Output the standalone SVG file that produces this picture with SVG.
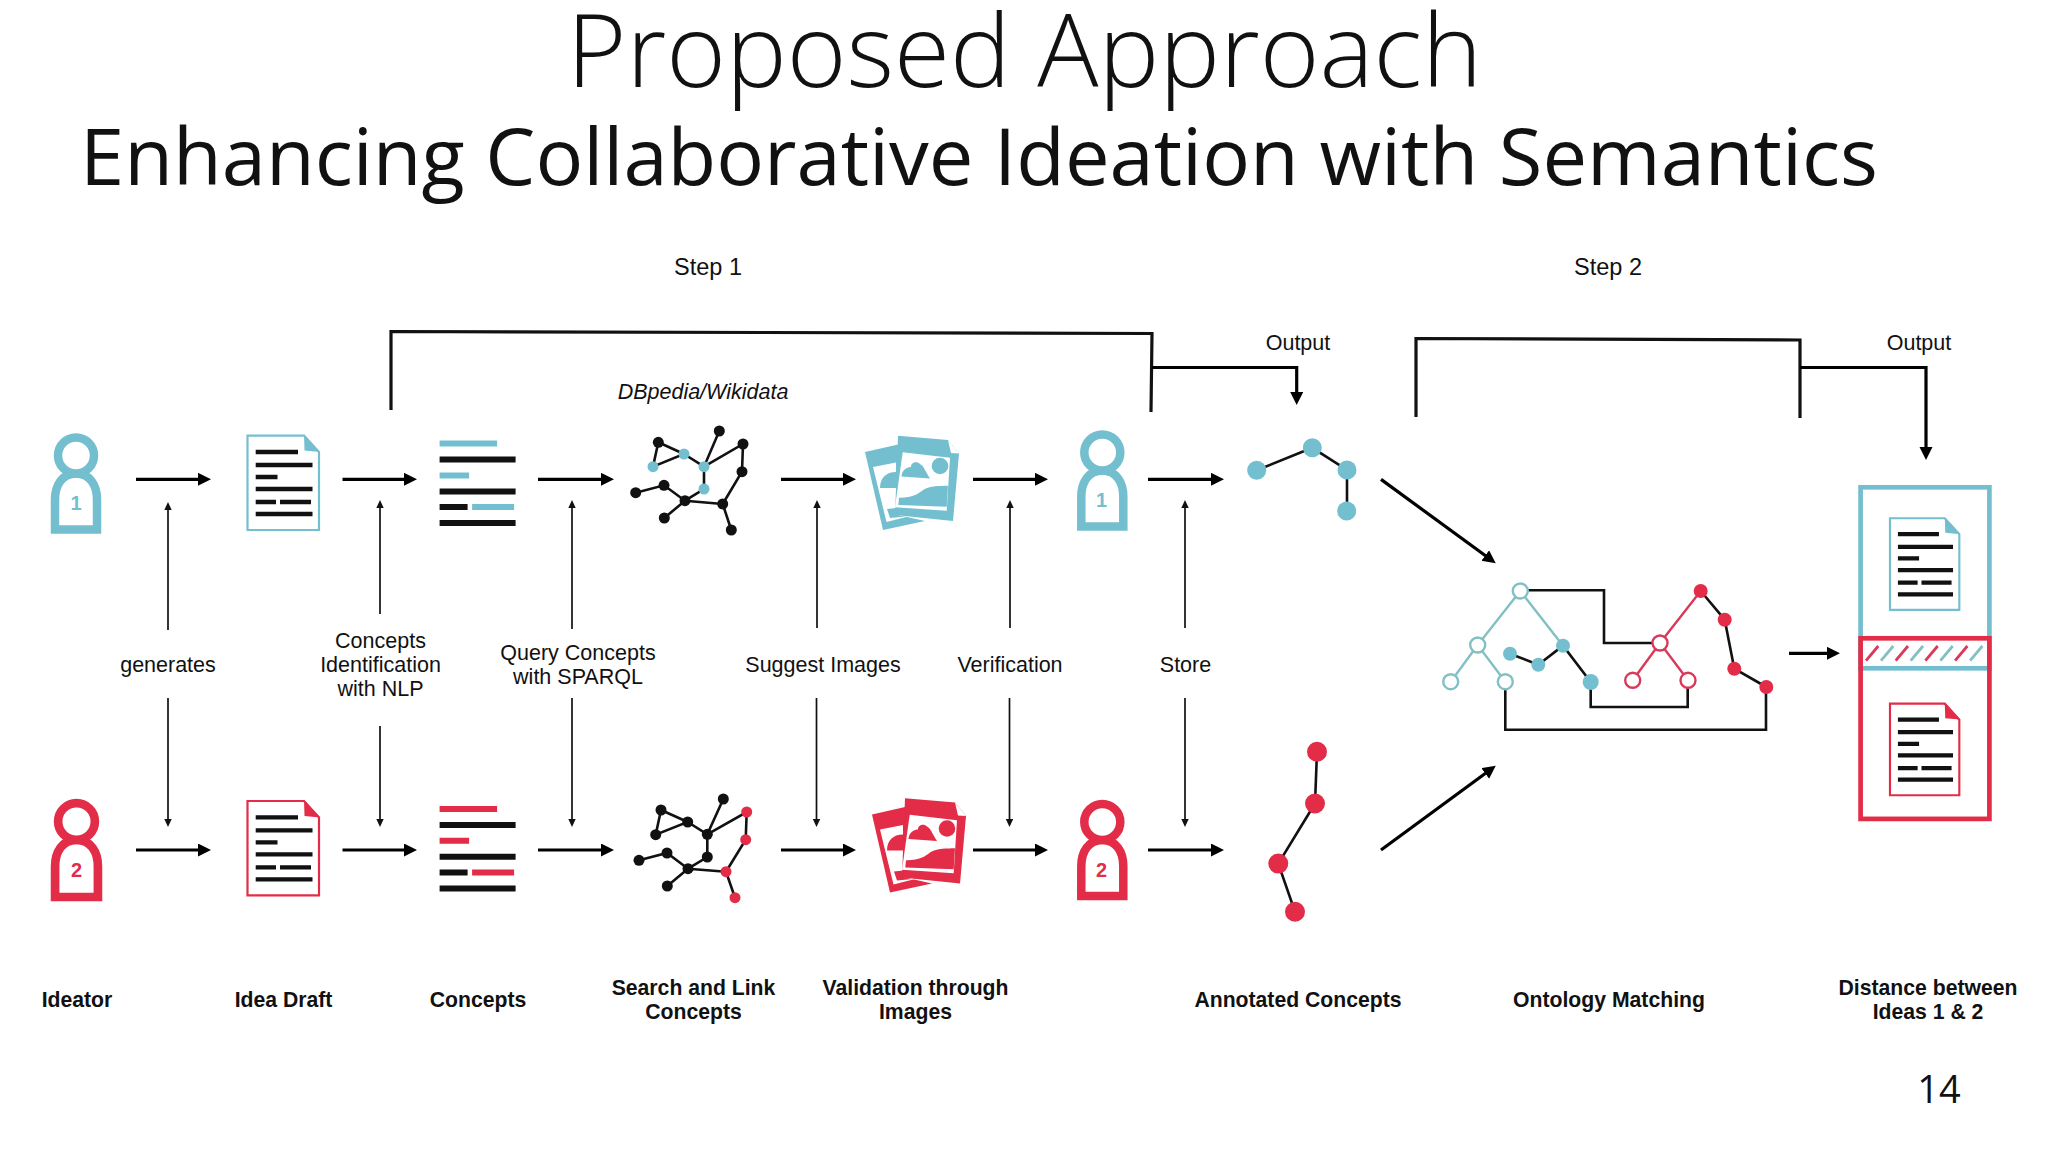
<svg xmlns="http://www.w3.org/2000/svg" xmlns:xlink="http://www.w3.org/1999/xlink" width="2048" height="1152" viewBox="0 0 2048 1152">
<style>
.t{color:#74bfcf}.r{color:#e32c48}
.lb{font-family:"Liberation Sans",Arial,sans-serif;font-size:21.5px;fill:#111;text-anchor:middle}
.st{font-family:"Liberation Sans",Arial,sans-serif;font-size:23.5px;fill:#111;text-anchor:middle}
.bd{font-family:"Liberation Sans",Arial,sans-serif;font-size:21.2px;font-weight:700;fill:#111;text-anchor:middle}
.big{stroke:#000;stroke-width:3.2;fill:none;marker-end:url(#hb)}
.thin{stroke:#111;stroke-width:1.7;fill:none;marker-end:url(#hs)}
.br{stroke:#111;stroke-width:3.2;fill:none}
.bar{stroke:#111;stroke-width:4.4}
.bar2{stroke:#111;stroke-width:6}
.e{stroke:#111;stroke-width:2.6;fill:none}
.k{fill:#111}
.hol{fill:#fff;stroke-width:2.4;stroke:currentColor}
.sol{fill:currentColor}
.ol{stroke:currentColor;stroke-width:2.4;fill:none}
.num{font-family:"Liberation Sans",sans-serif;font-weight:700;font-size:20px;text-anchor:middle;fill:currentColor}
.onT{color:#82c0c4}
.onR{color:#d9395a}
</style>
<defs>
<marker id="hb" markerUnits="userSpaceOnUse" markerWidth="14" markerHeight="14" refX="5" refY="6.5" orient="auto"><path d="M0,0L13,6.5L0,13Z" fill="#000"/></marker>
<marker id="hs" markerUnits="userSpaceOnUse" markerWidth="9" markerHeight="9" refX="3" refY="3.7" orient="auto"><path d="M0,0L8,3.7L0,7.4Z" fill="#111"/></marker>
<g id="person">
<path d="M-21,74 V44 C-21,30 -14,18 0,18 C14,18 21,30 21,44 V74 Z" fill="#fff" stroke="currentColor" stroke-width="8.5"/>
<circle r="18" fill="#fff" stroke="currentColor" stroke-width="8.5"/>
</g>
<g id="doc">
<rect width="73.5" height="96.4" fill="#fff" stroke="none"/>
<path d="M1,1 H57.5 L72.5,17.5 V95.4 H1 Z" fill="#fff" stroke="currentColor" stroke-width="2.2"/>
<path d="M57.5,0 L73.5,17.4 L58,16 Z" fill="currentColor"/>
<path class="bar" d="M9.2,17.4H51.5M9.2,30.4H66M9.2,42.4H31M9.2,54.4H66M9.2,67.4H29.5M33.5,67.4H64.5M9.2,79.4H66"/>
</g>
<g id="concepts">
<path class="bar2" d="M0,16H76M0,47.8H76M0,63.4H28M0,79.4H76"/>
<path d="M0,0H57.5V6H0ZM0,31.8H29.5V37.8H0ZM32.5,63.4H74.5V69.4H32.5Z" fill="currentColor" transform="translate(0,-3)"/>
</g>
<g id="images">
<path d="M865,452 L898,444.6 L898,515 L925,521 L883,530 Z" fill="currentColor"/>
<path d="M873,467 L896,462.5 L896,508 L887,509 L890,518 L910,516 L886.5,522 Z" fill="#fff"/>
<path d="M880,488 C880,478 886,472 896,472 V488 Z" fill="currentColor"/>
<path d="M898,435.7 L948,440 L959,453.6 L953,521 L895,515 Z" fill="currentColor"/>
<path d="M902.7,452.3 L950,457.7 L946.7,510.7 L895,507.3 Z" fill="#fff"/>
<path d="M948,440 L959,453.6 L951,453 Z" fill="#fff"/>
<circle cx="940" cy="466" r="8.3" fill="currentColor"/>
<path d="M901.5,476.5 C902,469 908,467 911,467 C911,462 917,461 920,464 C924,466 925,471 930,478.5 Z" fill="currentColor"/>
<path d="M899,497.7 C912,498 918,494 923,490 C930,485.5 940,486 948,485.7 L946.7,506.7 L898.3,505 Z" fill="currentColor"/>
</g>
</defs>
<rect width="2048" height="1152" fill="#fff"/>
<g id="titles">
<text x="1024.5" y="87" font-family="'Open Sans',sans-serif" font-weight="300" font-size="102" text-anchor="middle" fill="#111">Proposed Approach</text>
<text x="979" y="185" font-family="'Open Sans',sans-serif" font-size="79.5" text-anchor="middle" fill="#111">Enhancing Collaborative Ideation with Semantics</text>
<text x="1939" y="1103" font-family="'Open Sans',sans-serif" font-size="38" text-anchor="middle" fill="#111">14</text>
<text class="st" x="708" y="275">Step 1</text>
<text class="st" x="1608" y="275">Step 2</text>
<text class="lb" x="1298" y="350">Output</text>
<text class="lb" x="1919" y="350">Output</text>
<text class="lb" x="703" y="399" font-style="italic">DBpedia/Wikidata</text>
</g>
<g id="connectors">
<path class="br" d="M391,410V331.5L1152,333.5L1151,412"/>
<path class="big" d="M1152,367.5H1296.7V397"/>
<path class="br" d="M1416,417V338.5L1800,340V418"/>
<path class="big" d="M1800,367.5H1926V452"/>
<path class="big" d="M136,479.3H203"/><path class="big" d="M342.5,479.3H409"/><path class="big" d="M538,479.3H606"/><path class="big" d="M781,479.3H848"/><path class="big" d="M973,479.3H1040"/><path class="big" d="M1148,479.3H1216"/>
<path class="big" d="M136,850H203"/><path class="big" d="M342.5,850H409"/><path class="big" d="M538,850H606"/><path class="big" d="M781,850H848"/><path class="big" d="M973,850H1040"/><path class="big" d="M1148,850H1216"/>
<path class="thin" d="M168,630V507"/><path class="thin" d="M168,698V822"/>
<path class="thin" d="M380,614V505"/><path class="thin" d="M380,726V822"/>
<path class="thin" d="M572,629V505"/><path class="thin" d="M572,698V822"/>
<path class="thin" d="M817,628V505"/><path class="thin" d="M816.5,698V822"/>
<path class="thin" d="M1010,628V505"/><path class="thin" d="M1009.5,698V822"/>
<path class="thin" d="M1185,628V505"/><path class="thin" d="M1185,698V822"/>
<path class="big" d="M1381,479.4L1489.3,558.5"/>
<path class="big" d="M1381,850L1489.3,770.5"/>
<path class="big" d="M1789,653.3H1832"/>
</g>
<g id="labels">
<text class="lb" x="168" y="672">generates</text>
<text class="lb" x="380.5" y="648">Concepts</text><text class="lb" x="380.5" y="672">Identification</text><text class="lb" x="380.5" y="696">with NLP</text>
<text class="lb" x="578" y="660">Query Concepts</text><text class="lb" x="578" y="684">with SPARQL</text>
<text class="lb" x="823" y="672">Suggest Images</text>
<text class="lb" x="1010" y="672">Verification</text>
<text class="lb" x="1185.5" y="672">Store</text>
<text class="bd" x="77" y="1007">Ideator</text>
<text class="bd" x="283.5" y="1007">Idea Draft</text>
<text class="bd" x="478" y="1007">Concepts</text>
<text class="bd" x="693.5" y="995">Search and Link</text><text class="bd" x="693.5" y="1019">Concepts</text>
<text class="bd" x="915.5" y="995">Validation through</text><text class="bd" x="915.5" y="1019">Images</text>
<text class="bd" x="1298" y="1007">Annotated Concepts</text>
<text class="bd" x="1609" y="1007">Ontology Matching</text>
<text class="bd" x="1928" y="995">Distance between</text><text class="bd" x="1928" y="1019">Ideas 1 &amp; 2</text>
</g>
<g id="ideator1" class="t"><use href="#person" transform="translate(76,455.5)"/><text class="num" x="76" y="510">1</text></g>
<g id="ideator2" class="r"><use href="#person" transform="translate(76.5,821.5) scale(1.02)"/><text class="num" x="76.5" y="877">2</text></g>
<g id="draft1" class="t"><use href="#doc" transform="translate(246.5,434.6)"/></g>
<g id="draft2" class="r"><use href="#doc" transform="translate(246.5,800)"/></g>
<g id="concepts1" class="t"><use href="#concepts" transform="translate(439.6,443.6)"/></g>
<g id="concepts2" class="r"><use href="#concepts" transform="translate(439.6,809)"/></g>
<g id="network1" class="t">
<path class="e" d="M658.3,442.3L684,454L653,466.7L658.3,442.3M684,454L704,466.7L719.3,431M704,466.7L743,444L742,471.7L722.7,504L731.3,530M704,466.7V489L685,500.7L664,485.3L635.7,492.7M685,500.7L664.3,518M685,500.7L722.7,504"/>
<g class="k"><circle cx="658.3" cy="442.3" r="5.5"/><circle cx="719.3" cy="431" r="5.5"/><circle cx="743" cy="444" r="5.5"/><circle cx="742" cy="471.7" r="5.5"/><circle cx="664" cy="485.3" r="5.5"/><circle cx="635.7" cy="492.7" r="5.5"/><circle cx="685" cy="500.7" r="5.5"/><circle cx="722.7" cy="504" r="5.5"/><circle cx="664.3" cy="518" r="5.5"/><circle cx="731.3" cy="530" r="5.5"/></g>
<g class="sol"><circle cx="684" cy="454" r="5.5"/><circle cx="653" cy="466.7" r="5.5"/><circle cx="704" cy="466.7" r="5.5"/><circle cx="704" cy="489" r="5.5"/></g>
</g>
<g id="network2" class="r">
<path class="e" d="M661,810L687.7,822L655.7,834.7L661,810M687.7,822L707.3,834.3L723.3,799M707.3,834.3L746.7,812L745.7,839.7L726,871.7L735,897.7M707.3,834.3V857L688,868.7L667,853L639,860.3M688,868.7L667.3,886M688,868.7L726,871.7"/>
<g class="k"><circle cx="661" cy="810" r="5.5"/><circle cx="687.7" cy="822" r="5.5"/><circle cx="655.7" cy="834.7" r="5.5"/><circle cx="707.3" cy="834.3" r="5.5"/><circle cx="723.3" cy="799" r="5.5"/><circle cx="707.3" cy="857" r="5.5"/><circle cx="667" cy="853" r="5.5"/><circle cx="639" cy="860.3" r="5.5"/><circle cx="688" cy="868.7" r="5.5"/><circle cx="667.3" cy="886" r="5.5"/></g>
<g class="sol"><circle cx="746.7" cy="812" r="5.5"/><circle cx="745.7" cy="839.7" r="5.5"/><circle cx="726" cy="871.7" r="5.5"/><circle cx="735" cy="897.7" r="5.5"/></g>
</g>
<g id="images1" class="t"><use href="#images"/></g>
<g id="images2" class="r"><use href="#images" transform="translate(7,362.5)"/></g>
<g id="ideator1b" class="t"><use href="#person" transform="translate(1102.3,452.5)"/><text class="num" x="1101.5" y="507">1</text></g>
<g id="ideator2b" class="r"><use href="#person" transform="translate(1102.3,822)"/><text class="num" x="1101.5" y="877">2</text></g>
<g id="annotated1" class="t">
<path class="e" d="M1256.7,470.3L1312.3,447.8L1347,470V511"/>
<g class="sol"><circle cx="1256.7" cy="470.3" r="9.5"/><circle cx="1312.3" cy="447.8" r="9.5"/><circle cx="1347" cy="470" r="9.5"/><circle cx="1346.7" cy="511" r="9.5"/></g>
</g>
<g id="annotated2" class="r">
<path class="e" d="M1317,751.7L1315,803.5L1278.3,863.6L1295,911.8"/>
<g class="sol"><circle cx="1317" cy="751.7" r="10"/><circle cx="1315" cy="803.5" r="10"/><circle cx="1278.3" cy="863.6" r="10"/><circle cx="1295" cy="911.8" r="10"/></g>
</g>
<g id="ontology">
<path class="e" d="M1528,590.3H1604V643H1652M1590.7,689V707H1687.7V688M1505.3,689V729.7H1766V693"/>
<path class="e" d="M1510,653.7L1538.3,664.7L1563,645.7L1590.7,682M1700.7,591L1724.7,619.7L1734.3,668.7L1766.3,687"/>
<g class="onT">
<path class="ol" d="M1477.7,645L1520.3,591L1563,645.7M1450.7,681.7L1477.7,645L1505.3,681.7"/>
<g class="hol"><circle cx="1520.3" cy="591" r="7.5"/><circle cx="1477.7" cy="645" r="7.5"/><circle cx="1450.7" cy="681.7" r="7.5"/><circle cx="1505.3" cy="681.7" r="7.5"/></g>
</g>
<g class="t sol"><circle cx="1510" cy="653.7" r="7"/><circle cx="1538.3" cy="664.7" r="7"/><circle cx="1563" cy="645.7" r="7"/><circle cx="1590.7" cy="682" r="8"/></g>
<g class="onR">
<path class="ol" d="M1700.7,591L1660,643M1632.7,680.3L1660,643L1688,680.3"/>
<g class="hol"><circle cx="1660" cy="643" r="7.5"/><circle cx="1632.7" cy="680.3" r="7.5"/><circle cx="1688" cy="680.3" r="7.5"/></g>
</g>
<g class="r sol"><circle cx="1700.7" cy="591" r="7"/><circle cx="1724.7" cy="619.7" r="7"/><circle cx="1734.3" cy="668.7" r="7"/><circle cx="1766.3" cy="687" r="7"/></g>
</g>
<g id="distance">
<rect x="1860.6" y="487.3" width="128.8" height="181" fill="none" stroke="#74bfcf" stroke-width="4.7"/>
<rect x="1860.6" y="638.3" width="128.8" height="180.6" fill="none" stroke="#e32c48" stroke-width="4.7"/>
<path d="M1866,660.7L1878.3,646M1895.7,660.7L1908,646M1925.4,660.7L1937.7,646M1955.1,660.7L1967.4,646" stroke="#d9395a" stroke-width="2.8"/>
<path d="M1881,660.7L1893.3,646M1910.7,660.7L1923,646M1940.4,660.7L1952.7,646M1970.1,660.7L1982.4,646" stroke="#82c0c4" stroke-width="2.8"/>
<g class="t"><use href="#doc" transform="translate(1889,517.3) scale(0.97)"/></g>
<g class="r"><use href="#doc" transform="translate(1889,702.7) scale(0.97)"/></g>
</g>
</svg>
